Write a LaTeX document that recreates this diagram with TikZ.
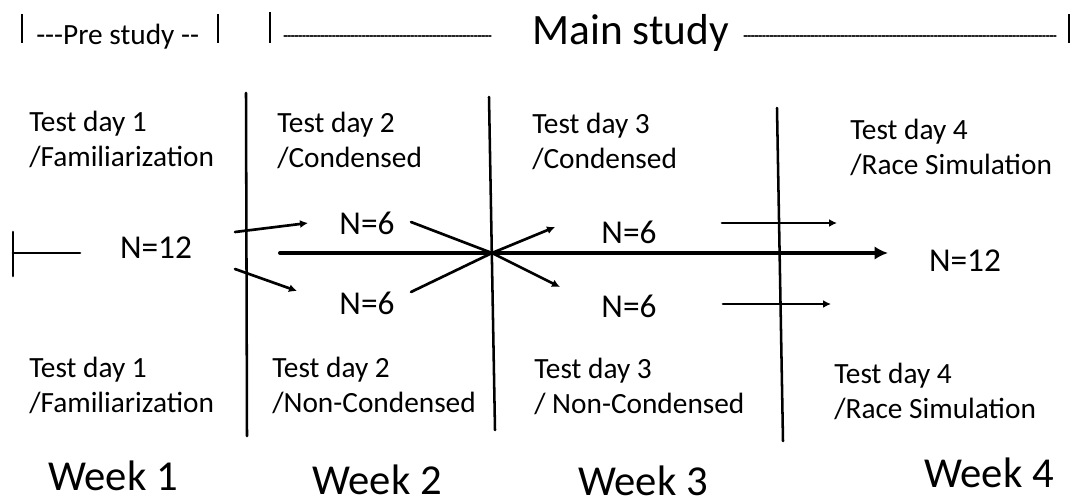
\documentclass[tikz,border=0pt]{standalone}
\usepackage{fontspec}
\setmainfont{Carlito}
\usetikzlibrary{arrows.meta}

\tikzset{
	daytext/.style={anchor=base west, inner sep=0, align=left, font=\fontsize{22}{26.25}\selectfont},
	nlabel/.style={inner sep=0, font=\fontsize{25}{30}\selectfont},
	weektext/.style={anchor=base west, inner sep=0, font=\fontsize{32}{38}\selectfont},
	divider/.style={line width=1.9pt},
	bar/.style={line width=1.6pt, line cap=butt},
	fineline/.style={line width=0.8pt, dash pattern=on 2pt off 0.8pt, black!85},
	flow/.style={-{Latex[length=6pt,width=6pt]}, line width=2pt},
	mainflow/.style={-{Latex[length=10pt,width=10pt]}, line width=3pt}
}

\begin{document}
\begin{tikzpicture}[>=Latex, line cap=round, line join=round, x=0.75pt, y=-0.75pt]
		\useasboundingbox (0,0) rectangle (1076,504);
		
		% Header
		\draw[bar] (22,14) -- (22,43);
		\node[anchor=base west, inner sep=0, font=\fontsize{22}{26}\selectfont] (pre) at (36,44) {{-}{-}{-}Pre study {-}{-}};
		\draw[bar] (218,14) -- (218,43);
		\draw[bar] (270,12) -- (270,43);
		\draw[fineline] (284,36) -- (491,36);
		\node[anchor=base west, inner sep=0, font=\fontsize{32.5}{38}\selectfont] (main) at (532,44) {Main study};
		\draw[fineline] (744,36) -- (1056,36);
		\draw[bar] (1069,14) -- (1069,43);
		
		% Week dividers
		\draw[divider] (246,93) -- (247,436);
		\draw[divider] (489,97) -- (495,430);
		\draw[divider] (777,108) -- (783,441);
		
		% Test days, upper row (base = last line)
		\node[daytext] (td1up) at (29,166) {Test day 1\\/Familiarization};
		\node[daytext] (td2up) at (277,167) {Test day 2\\/Condensed};
		\node[daytext] (td3up) at (532,168) {Test day 3\\/Condensed};
		\node[daytext] (td4up) at (850,174) {Test day 4\\/Race Simulation};
		
		% Test days, lower row
		\node[daytext] (td1low) at (29,412) {Test day 1\\/Familiarization};
		\node[daytext] (td2low) at (272,412) {Test day 2\\/Non-Condensed};
		\node[daytext] (td3low) at (534,413) {Test day 3\\/ Non-Condensed};
		\node[daytext] (td4low) at (834,418) {Test day 4\\/Race Simulation};
		
		% Group sizes
		\node[nlabel] (nall) at (156,248) {N=12};
		\node[nlabel] (ncondA) at (367,223) {N=6};
		\node[nlabel] (nnonA) at (367,303) {N=6};
		\node[nlabel] (ncondB) at (629,232) {N=6};
		\node[nlabel] (nnonB) at (629,306) {N=6};
		\node[nlabel] (nend) at (965,261) {N=12};
		
		% Start marker
		\coordinate (startTop) at (13,232);
		\coordinate (startBot) at (13,276);
		\coordinate (startMid) at (13,253);
		\coordinate (startEnd) at (80,253);
		\draw[line width=2pt] (startTop) -- (startBot);
		\draw[line width=2pt] (startMid) -- (startEnd);
		
		% Split into two groups
		\coordinate (splitUpS) at (235,232);
		\coordinate (splitUpE) at (308,223);
		\coordinate (splitLowS) at (235,269);
		\coordinate (splitLowE) at (297,291);
		\draw[flow] (splitUpS) -- (splitUpE);
		\draw[flow] (splitLowS) -- (splitLowE);
		
		% Main time line and crossover
		\coordinate (mainS) at (280,253);
		\coordinate (mainE) at (888,253);
		\coordinate (cross) at (492,253);
		\draw[mainflow] (mainS) -- (mainE);
		
		\coordinate (inUp) at (411,222);
		\coordinate (inLow) at (411,292);
		\coordinate (outUp) at (555,227);
		\coordinate (outLow) at (560,287);
		\draw[line width=2pt] (inUp) -- (cross);
		\draw[line width=2pt] (inLow) -- (cross);
		\draw[flow] (cross) -- (outUp);
		\draw[flow] (cross) -- (outLow);
		
		% Into week 4
		\coordinate (w4UpS) at (722,223);
		\coordinate (w4UpE) at (837,223);
		\coordinate (w4LowS) at (723,304);
		\coordinate (w4LowE) at (831,304);
		\draw[flow] (w4UpS) -- (w4UpE);
		\draw[flow] (w4LowS) -- (w4LowE);
		
		% Weeks
		\node[weektext] (week1) at (48,490) {Week 1};
		\node[weektext] (week2) at (312,494) {Week 2};
		\node[weektext] (week3) at (578,495) {Week 3};
		\node[weektext] (week4) at (924,487) {Week 4};
		
	\end{tikzpicture}
\end{document}
